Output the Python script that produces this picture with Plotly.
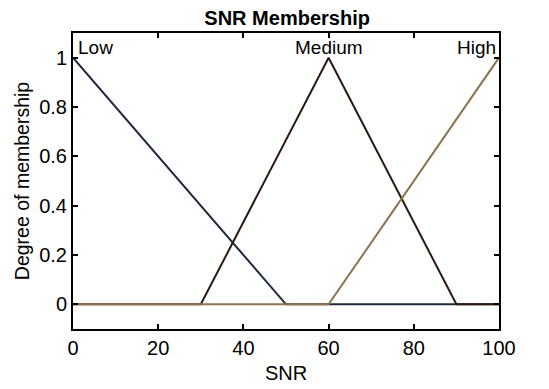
import plotly.graph_objects as go

# Membership functions over the SNR universe [0, 100]
mf_names = ["Low", "Medium", "High"]
mf_x = [
    [0, 50, 100],
    [0, 30, 60, 90, 100],
    [0, 60, 100],
]
mf_y = [
    [1, 0, 0],
    [0, 0, 1, 0, 0],
    [0, 0, 1],
]
mf_colors = ["#1c2a3c", "#2a1a12", "#8a744e"]
label_x = [0, 60, 100]

x_ticks = [0, 20, 40, 60, 80, 100]
y_ticks = [0, 0.2, 0.4, 0.6, 0.8, 1]

font = "Liberation Sans, Arial, sans-serif"

fig = go.Figure()
for xs, ys, c in zip(mf_x, mf_y, mf_colors):
    fig.add_trace(go.Scatter(x=xs, y=ys, mode="lines",
                             line=dict(color=c, width=2), showlegend=False))

anchors = ["left", "center", "right"]
for name, lx, a in zip(mf_names, label_x, anchors):
    fig.add_annotation(x=lx, y=1.0, text=name, showarrow=False,
                       xanchor=a, yanchor="bottom", yshift=-2,
                       xshift=3 if a == "left" else (-1 if a == "right" else 0),
                       font=dict(family=font, size=19, color="black"))

axis_common = dict(showline=True, linecolor="black", linewidth=2, mirror="ticks",
                   ticks="inside", ticklen=5, tickwidth=1.5, tickcolor="black",
                   showgrid=False, zeroline=False, automargin=False,
                   tickfont=dict(family=font, size=20, color="black"))

fig.update_xaxes(range=[0, 100], tickvals=x_ticks,
                 title=dict(text="SNR", font=dict(family=font, size=20, color="black"), standoff=8),
                 **axis_common)
fig.update_yaxes(range=[-0.1, 1.1], tickvals=y_ticks, ticktext=[str(v) for v in y_ticks],
                 title=dict(text="Degree of membership", font=dict(family=font, size=19.5, color="black"), standoff=4),
                 **axis_common)

fig.update_layout(
    width=549, height=389,
    margin=dict(l=73, r=50, t=33, b=60),
    paper_bgcolor="white", plot_bgcolor="white",
    title=dict(text="<b>SNR Membership</b>", x=0.523, xanchor="center", y=0.955, yanchor="middle",
               font=dict(family=font, size=20, color="black")),
)

fig.write_html("out.html")
